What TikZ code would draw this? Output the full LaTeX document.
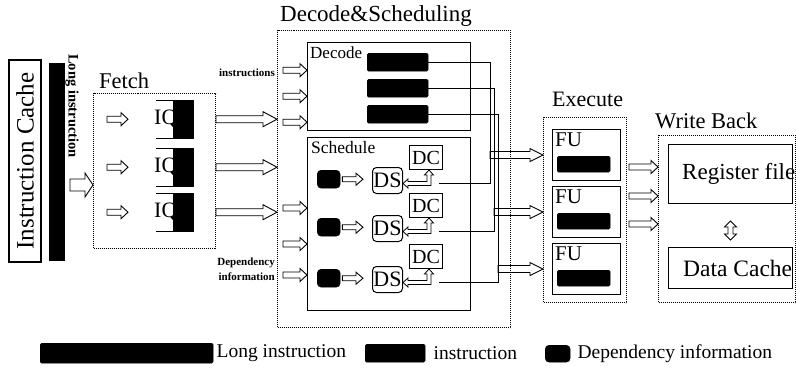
\documentclass[tikz,border=0pt]{standalone}
\usepackage{fontspec}
\setmainfont{Liberation Serif}
\usetikzlibrary{calc,positioning,arrows.meta}

\begin{document}
\begin{tikzpicture}[
        x=1pt, y=-1pt, inner sep=0pt,
        fsz/.style={font=\fontsize{#1}{#1}\selectfont},
        bfsz/.style={font=\fontsize{#1}{#1}\selectfont\bfseries},
        blockbox/.style={draw, line width=1pt, anchor=north west},
        stage/.style={draw, densely dotted, line width=1pt, anchor=north west},
        blk/.style={fill=black, draw=black, rounded corners=1.5pt, anchor=north west},
        bar/.style={blk, minimum width=61, minimum height=18},
        dep/.style={blk, rounded corners=4pt, minimum width=23, minimum height=18},
        fat/.style n args={3}{draw, line width=0.9pt, line join=miter, to path={
            let \p1=(\tikztostart), \p2=(\tikztotarget) in
            (\x1,\y1+#1pt) -- (\x2-#3pt,\y1+#1pt) -- (\x2-#3pt,\y1+#2pt) -- (\x2,\y1)
            -- (\x2-#3pt,\y1-#2pt) -- (\x2-#3pt,\y1-#1pt) -- (\x1,\y1-#1pt) -- cycle}},
        arr/.style={fat={3}{6.5}{7}},
        longarr/.style={fat={3.5}{7.5}{14}},
        exarr/.style={fat={3.5}{6.5}{13}},
        updown/.style={draw, line width=0.9pt, to path={
            let \p1=(\tikztostart), \p2=(\tikztotarget) in
            (\x1,\y1) -- (\x1+6pt,\y1-6pt) -- (\x1+2.5pt,\y1-6pt) -- (\x1+2.5pt,\y2+6pt)
            -- (\x1+6pt,\y2+6pt) -- (\x1,\y2) -- (\x1-6pt,\y2+6pt) -- (\x1-2.5pt,\y2+6pt)
            -- (\x1-2.5pt,\y1-6pt) -- (\x1-6pt,\y1-6pt) -- cycle}},
        feedback/.style={draw, line width=0.8pt, line join=miter, to path={
            let \p1=(\tikztostart), \p2=(\tikztotarget) in
            (\x1,\y1) -- (\x1+4.5pt,\y1-5pt) -- (\x1+2pt,\y1-5pt) -- (\x1+2pt,\y2-2pt)
            -- (\x2+5pt,\y2-2pt) -- (\x2+5pt,\y2-4.5pt) -- (\x2,\y2) -- (\x2+5pt,\y2+4.5pt)
            -- (\x2+5pt,\y2+2pt) -- (\x1-2pt,\y2+2pt) -- (\x1-2pt,\y1-5pt) -- (\x1-4.5pt,\y1-5pt) -- cycle}},
        wire/.style={line width=1pt}
    ]
    \useasboundingbox (0,0) rectangle (796,368);

    % instruction cache and fetch
    \node[draw, line width=1.3pt, rotate=90, minimum width=202, minimum height=32, fsz=25] (icache) at (25,161) {Instruction Cache};
    \node[blk, rounded corners=0pt, minimum width=15, minimum height=197] (longbar) at (49,63) {};
    \node[bfsz=14.5, rotate=-90] (longlbl) at (72,106) {Long instruction};

    \node[stage, minimum width=122, minimum height=155] (fetch) at (93,93) {};
    \node[fsz=22.5, anchor=base west] (fetchlbl) at (99,88) {Fetch};
    \coordinate (in) at (70,185);
    \draw[fat={6}{12}{8}] (in) to (in -| fetch.west);

    \foreach \i/\ty in {1/100,2/148,3/193} {
        \node[fsz=22, anchor=west] (iqtxt\i) at (154,\ty+19) {IQ};
        \node[blk, rounded corners=0pt, minimum width=20, minimum height=38] (iq\i) at (173,\ty) {};
        \draw[wire] (iq\i.north west) -- ++(-17,0) (iq\i.south west) -- ++(-17,0);
        \draw[arr] ([xshift=14pt]fetch.west |- iq\i) to ([xshift=35pt]fetch.west |- iq\i);
    }

    % decode & scheduling
    \node[stage, minimum width=233, minimum height=297] (ds) at (277,30) {};
    \node[fsz=23, anchor=base west] (dslbl) at (280,21) {Decode\&Scheduling};
    \node[bfsz=11, anchor=east] (inslbl) at (275,73) {instructions};
    \node[font=\fontsize{11}{15}\selectfont\bfseries, align=right, anchor=east] (deplbl) at (275,269) {Dependency\\information};

    \node[blockbox, minimum width=163, minimum height=88] (decode) at (307,42) {};
    \node[fsz=17, anchor=north west] (decodelbl) at (310,46) {Decode};
    \node[blockbox, minimum width=163, minimum height=173] (sched) at (307,137) {};
    \node[fsz=17.5, anchor=north west] (schedlbl) at (311,141) {Schedule};

    \foreach \i/\ty in {1/53,2/79,3/105} {
        \node[bar] (b\i) at (367,\ty) {};
        \draw[arr] ([xshift=6pt,yshift=-8pt]ds.west |- b\i) to ([yshift=-8pt]decode.west |- b\i);
    }
    \foreach \yy in {208,244,275}
        \draw[arr] ([xshift=6pt]ds.west |- 0,\yy) to (sched.west |- 0,\yy);
    \foreach \i in {1,2,3}
        \draw[longarr] (fetch.east |- iq\i) to (ds.west |- iq\i);

    \foreach \i/\ty in {1/167,2/215,3/266} {
        \node[dep] (dep\i) at (317,\ty+3) {};
        \node[draw, line width=1pt, rounded corners=4pt, minimum width=30, minimum height=26, fsz=22, anchor=north west] (ds\i) at (372,\ty) {DS};
        \node[blockbox, minimum width=33, minimum height=24, fsz=20] (dc\i) at (409,\ty-22) {DC};
        \draw[fat={2.5}{6}{7}] ([xshift=2pt]dep\i.east) to ([xshift=-9pt]ds\i.west);
        \draw[feedback] ([xshift=3pt]dc\i.south) to ([yshift=-3pt]ds\i.east);
    }

    % execute
    \node[stage, minimum width=83, minimum height=185] (ex) at (543,117) {};
    \node[fsz=22, anchor=base west] (exlbl) at (552,106) {Execute};
    \foreach \i/\ty in {1/129,2/186,3/243} {
        \node[blockbox, minimum width=68, minimum height=51] (fu\i) at (552,\ty) {};
        \node[fsz=21, anchor=north west] (futxt\i) at (555,\ty+4) {FU};
        \node[blk, minimum width=53, minimum height=16] (fubar\i) at (557,\ty+27) {};
    }

    % wires from decode and schedule to execute
    \foreach \i/\wx in {1/490,2/494,3/498} {
        \path ([yshift=-3pt]ds\i.east) coordinate (lvl\i);
        \coordinate (j\i) at (\wx,0 |- lvl\i);
        \draw[wire] (b\i.east) -| (j\i) -- ([xshift=-4pt]j\i -| dc\i.east);
        \draw[exarr] (j\i |- fu\i) to (ex.west |- fu\i);
    }

    % write back
    \node[stage, minimum width=137, minimum height=167] (wb) at (658,135) {};
    \node[fsz=22.5, anchor=base west] (wblbl) at (655,128) {Write Back};
    \node[blockbox, minimum width=124, minimum height=59] (rf) at (668,144) {};
    \node[fsz=23, anchor=west] (rftxt) at (682,174) {Register file};
    \node[blockbox, minimum width=124, minimum height=41] (dcache) at (668,247) {};
    \node[fsz=23.5, anchor=west] (dctxt) at (683,268) {Data Cache};
    \foreach \yy in {167,196,224}
        \draw[arr] ([xshift=2pt]ex.east |- 0,\yy) to (wb.west |- 0,\yy);
    \draw[updown] ([yshift=-17pt]rf.south) to ([yshift=7pt]dcache.north);

    % legend
    \node[blk, minimum width=173, minimum height=20] (legl) at (40,343) {};
    \node[fsz=19.5, right=3pt of legl] (legltxt) {Long instruction};
    \node[blk, minimum width=60, minimum height=18] (legi) at (365,344) {};
    \node[fsz=19.5, right=8pt of legi] (legitxt) {instruction};
    \node[dep, minimum width=25, minimum height=17] (legd) at (545,345) {};
    \node[fsz=19.5, right=7pt of legd] (legdtxt) {Dependency information};
\end{tikzpicture}
\end{document}
